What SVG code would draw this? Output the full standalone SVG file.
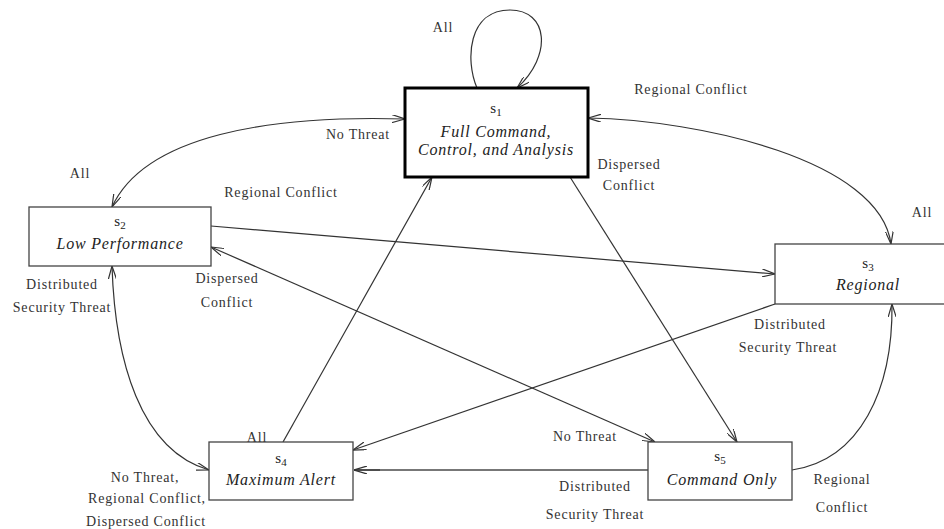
<svg xmlns="http://www.w3.org/2000/svg" width="944" height="529" viewBox="0 0 944 529">
  <style>
    .lbl { font-family: "Liberation Serif", "Times New Roman", serif; font-size: 14px; letter-spacing: 0.8px; fill: #333; text-anchor: middle; }
    .name { font-family: "Liberation Serif", "Times New Roman", serif; font-size: 16px; font-style: italic; letter-spacing: 0.8px; fill: #222; text-anchor: middle; }
    .sid { font-family: "Liberation Serif", "Times New Roman", serif; font-size: 15px; fill: #222; text-anchor: middle; }
    .sub { font-size: 11px; }
    .box { fill: #fff; stroke: #444; stroke-width: 1.3; }
    .box-main { fill: #fff; stroke: #000; stroke-width: 3; }
    .edge { fill: none; stroke: #333; stroke-width: 1.2; }
    .edge-heavy { fill: none; stroke: #777; stroke-width: 2.2; }
  </style>
  <defs>
    <marker id="arrow" viewBox="0 0 13 8" refX="13" refY="4" markerWidth="13" markerHeight="8" markerUnits="userSpaceOnUse" orient="auto-start-reverse">
      <path d="M0,0 L13,4 L0,8" fill="none" stroke="#333" stroke-width="1.2"/>
    </marker>
  </defs>

  <!-- transitions -->
  <g id="connectors">
    <!-- self loop on s1 -->
    <path class="edge" d="M477,88 C 465,60 468,10 510,10 C 548,10 553,55 517,88" marker-end="url(#arrow)"/>
    <!-- s1 <-> s2 -->
    <path class="edge" d="M405,119 C 270,115 145,135 112,207" marker-start="url(#arrow)" marker-end="url(#arrow)"/>
    <!-- s1 <-> s3 -->
    <path class="edge" d="M588,118 C 700,120 880,160 891,244" marker-start="url(#arrow)" marker-end="url(#arrow)"/>
    <!-- s2 -> s3 -->
    <path class="edge" d="M211,226 L775,274" marker-end="url(#arrow)"/>
    <!-- s2 <-> s5 -->
    <path class="edge" d="M211,247 L655,442" marker-start="url(#arrow)" marker-end="url(#arrow)"/>
    <!-- s2 <-> s4 -->
    <path class="edge" d="M112,266 C 115,360 140,450 209,470" marker-start="url(#arrow)" marker-end="url(#arrow)"/>
    <!-- s4 -> s1 -->
    <path class="edge" d="M283,442 L432,177" marker-end="url(#arrow)"/>
    <!-- s1 -> s5 -->
    <path class="edge" d="M570,177 L737,442" marker-end="url(#arrow)"/>
    <!-- s3 -> s4 -->
    <path class="edge" d="M775,304 L353,450" marker-end="url(#arrow)"/>
    <!-- s5 -> s4 -->
    <path class="edge-heavy" d="M648,470 L354,470"/>
    <path class="edge" d="M380,470 L354,470" marker-end="url(#arrow)"/>
    <!-- s5 -> s3 -->
    <path class="edge" d="M792,470 C 860,460 893,390 892,304" marker-end="url(#arrow)"/>
  </g>

  <!-- transition labels -->
  <g id="labels">
    <text class="lbl" x="443" y="32">All</text>
    <text class="lbl" x="691" y="94">Regional Conflict</text>
    <text class="lbl" x="358" y="139">No Threat</text>
    <text class="lbl" x="80" y="178">All</text>
    <text class="lbl" x="281" y="197">Regional Conflict</text>
    <text class="lbl" x="629" y="169">Dispersed</text>
    <text class="lbl" x="629" y="190">Conflict</text>
    <text class="lbl" x="922" y="217">All</text>
    <text class="lbl" x="62" y="289">Distributed</text>
    <text class="lbl" x="62" y="312">Security Threat</text>
    <text class="lbl" x="227" y="283">Dispersed</text>
    <text class="lbl" x="227" y="307">Conflict</text>
    <text class="lbl" x="790" y="329">Distributed</text>
    <text class="lbl" x="788" y="352">Security Threat</text>
    <text class="lbl" x="257" y="442">All</text>
    <text class="lbl" x="585" y="441">No Threat</text>
    <text class="lbl" x="145" y="482">No Threat,</text>
    <text class="lbl" x="147" y="503">Regional Conflict,</text>
    <text class="lbl" x="146" y="526">Dispersed Conflict</text>
    <text class="lbl" x="595" y="491">Distributed</text>
    <text class="lbl" x="595" y="519">Security Threat</text>
    <text class="lbl" x="842" y="484">Regional</text>
    <text class="lbl" x="842" y="512">Conflict</text>
  </g>

  <!-- states -->
  <g id="s1">
    <rect class="box-main" x="405" y="88" width="183" height="89"/>
    <text class="sid" x="496" y="113">s<tspan class="sub" dy="3">1</tspan></text>
    <text class="name" x="496" y="137">Full Command,</text>
    <text class="name" x="496" y="155">Control, and Analysis</text>
  </g>
  <g id="s2">
    <rect class="box" x="29" y="207" width="182" height="59"/>
    <text class="sid" x="120" y="226">s<tspan class="sub" dy="3">2</tspan></text>
    <text class="name" x="120" y="249">Low Performance</text>
  </g>
  <g id="s3">
    <rect class="box" x="775" y="244" width="186" height="60"/>
    <text class="sid" x="868" y="268">s<tspan class="sub" dy="3">3</tspan></text>
    <text class="name" x="868" y="290">Regional</text>
  </g>
  <g id="s4">
    <rect class="box" x="209" y="442" width="144" height="58"/>
    <text class="sid" x="281" y="463">s<tspan class="sub" dy="3">4</tspan></text>
    <text class="name" x="281" y="485">Maximum Alert</text>
  </g>
  <g id="s5">
    <rect class="box" x="648" y="442" width="144" height="58"/>
    <text class="sid" x="720" y="461">s<tspan class="sub" dy="3">5</tspan></text>
    <text class="name" x="722" y="485">Command Only</text>
  </g>
</svg>
